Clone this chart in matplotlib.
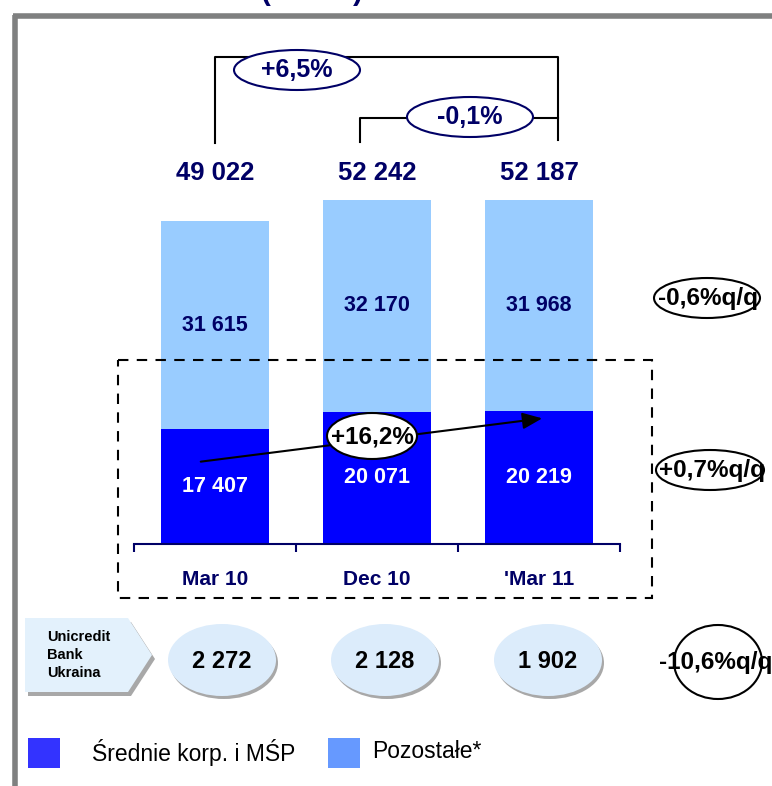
import numpy as np
import matplotlib.pyplot as plt
from matplotlib.patches import Ellipse, Polygon, Rectangle

plt.rcParams['font.family'] = ['Liberation Sans', 'DejaVu Sans']

# ---------------- data ----------------
kwartaly = ["Mar 10", "Dec 10", "'Mar 11"]
srednie = [17407, 20071, 20219]        # Średnie korp. i MŚP
pozostale = [31615, 32170, 31968]      # Pozostałe*
razem = [49022, 52242, 52187]
ukraina = ["2 272", "2 128", "1 902"]
zmiany_qq = ["-0,6%q/q", "+0,7%q/q", "-10,6%q/q"]

def fmt(v):
    return f"{v:,}".replace(",", " ")

NAVY = '#000066'
DARK = '#0000ff'
LIGHT = '#99ccff'

W, H = 772, 786
fig = plt.figure(figsize=(W / 100, H / 100), dpi=100)

# bar axes (pixel layout: baseline y=544, categories 134..620)
y0, ytop = 544, 149
ax = fig.add_axes([134 / W, (H - y0) / H, 486 / W, (y0 - ytop) / H])
ymax = (y0 - ytop) / (323 / 49022)
x = np.arange(len(kwartaly))
ax.bar(x, srednie, width=0.67, color=DARK, zorder=2)
ax.bar(x, pozostale, bottom=srednie, width=0.67, color=LIGHT, zorder=2)
ax.set_xlim(-0.5, 2.5)
ax.set_ylim(0, ymax)
for s in ['top', 'right', 'left']:
    ax.spines[s].set_visible(False)
ax.spines['bottom'].set_color(NAVY)
ax.spines['bottom'].set_linewidth(1.5)
ax.set_yticks([])
ax.set_xticks([-0.5, 0.5, 1.5, 2.5])
ax.set_xticklabels([])
ax.tick_params(axis='x', length=6, width=1.5, color=NAVY, direction='out')
for i, k in enumerate(kwartaly):
    ax.text(i, -0.09 * ymax, k, ha='center', va='center', fontsize=15,
            fontweight='bold', color=NAVY)
    ax.text(i, srednie[i] / 2, fmt(srednie[i]), ha='center', va='center',
            fontsize=15.5, fontweight='bold', color='white', zorder=3)
    ax.text(i, srednie[i] + pozostale[i] / 2, fmt(pozostale[i]), ha='center',
            va='center', fontsize=15.5, fontweight='bold', color=NAVY, zorder=3)
    ax.text(i, max(razem) + 4000, fmt(razem[i]), ha='center', va='center',
            fontsize=18.5, fontweight='bold', color=NAVY)
ax.patch.set_alpha(0)

# overlay in pixel coordinates
ov = fig.add_axes([0, 0, 1, 1], zorder=5)
ov.set_xlim(0, W)
ov.set_ylim(H, 0)
ov.axis('off')
ov.patch.set_alpha(0)

# gray frame
ov.plot([15, 15], [15, H], color='#7f8080', lw=4, solid_capstyle='butt')
ov.plot([13, W], [16, 16], color='#7f8080', lw=4, solid_capstyle='butt')
ov.text(312, 0.5, "(mln zł)", ha='center', va='baseline', fontsize=21,
        fontweight='bold', color=NAVY)

# brackets
ov.plot([215, 215, 558, 558], [143, 57, 57, 140], color='black', lw=1.5, zorder=2)
ov.plot([360, 360, 558], [142, 118, 118], color='black', lw=1.5, zorder=2)
for (cx, cy, t) in [(297, 70, "+6,5%"), (470, 117, "-0,1%")]:
    ov.add_patch(Ellipse((cx, cy), 126, 40, facecolor='white', edgecolor=NAVY,
                         lw=1.5, zorder=3))
    ov.text(cx, cy, t, ha='center', va='center', fontsize=18, fontweight='bold',
            color=NAVY, zorder=4)

# dashed box
ov.add_patch(Rectangle((118, 360), 534, 238, fill=False, edgecolor='black',
                       lw=1.5, linestyle=(0, (5, 4))))

# growth arrow
ov.annotate('', xy=(545, 418), xytext=(198, 462),
            arrowprops=dict(arrowstyle='-|>,head_length=1.2,head_width=0.5',
                            color='black', lw=1.5))
ov.add_patch(Ellipse((372, 436), 90, 46, facecolor='white', edgecolor='black',
                     lw=1.5, zorder=3))
ov.text(372, 437, "+16,2%", ha='center', va='center', fontsize=17.5,
        fontweight='bold', zorder=4)

# q/q ellipses
for (cx, cy, w, h, tx, t) in [(707, 298, 106, 40, 708, zmiany_qq[0]),
                              (710, 470, 108, 40, 712, zmiany_qq[1]),
                              (718, 662, 88, 74, 716, zmiany_qq[2])]:
    ov.add_patch(Ellipse((cx, cy), w, h, facecolor='white', edgecolor='black',
                         lw=1.5, zorder=3))
    ov.text(tx, cy, t, ha='center', va='center', fontsize=17.5,
            fontweight='bold', zorder=4)

# Unicredit Bank Ukraina row
pent = [(25, 618), (128, 618), (152, 655), (128, 692), (25, 692)]
ov.add_patch(Polygon([(px + 3, py + 4) for px, py in pent], facecolor='#a8a8a8', edgecolor='none'))
ov.add_patch(Polygon(pent, facecolor='#e3f1fc', edgecolor='none'))
ov.text(47, 655, "Unicredit\nBank\nUkraina", ha='left', va='center', fontsize=10.5,
        fontweight='bold', linespacing=1.35)
for cx, t in zip([222, 385, 548], ukraina):
    ov.add_patch(Ellipse((cx + 2, 663), 108, 72, facecolor='#a8a8a8', edgecolor='none'))
    ov.add_patch(Ellipse((cx, 660), 108, 72, facecolor='#dcecfb', edgecolor='none'))
    ov.text(cx, 661, t, ha='center', va='center', fontsize=17, fontweight='bold')

# legend
ov.add_patch(Rectangle((28, 738), 32, 30, facecolor='#3333ff', edgecolor='none'))
ov.text(92, 753, "Średnie korp. i MŚP", ha='left', va='center', fontsize=16.5)
ov.add_patch(Rectangle((328, 738), 32, 30, facecolor='#6699ff', edgecolor='none'))
ov.text(372, 752, "Pozostałe*", ha='left', va='center', fontsize=16.5)

fig.savefig('out.png', dpi=100)
